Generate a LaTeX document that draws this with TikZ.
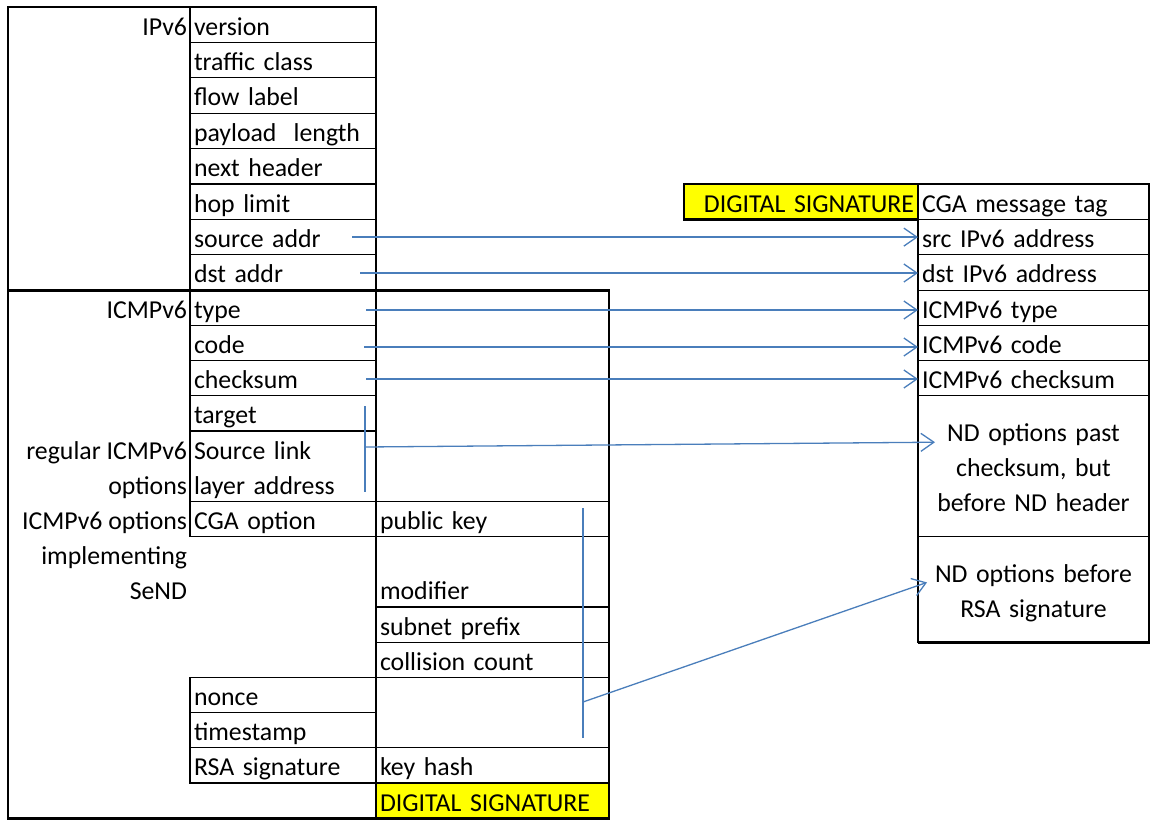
\documentclass[tikz,border=0pt]{standalone}
\usepackage{fontspec}
\setmainfont{Carlito}
\usetikzlibrary{arrows.meta,calc}
\definecolor{arrblue}{RGB}{74,126,187}
\definecolor{sigyellow}{RGB}{255,255,0}
\newcommand\rowstrut{\rule[-7.2pt]{0pt}{35.2pt}}
\begin{document}
\begin{tikzpicture}[x=1pt,y=-1pt,
  every node/.style={font=\fontsize{25.8}{35.2}\selectfont, text=black},
  cell/.style={draw=black, line width=1.3pt, anchor=north west, outer sep=0pt,
    inner xsep=4pt, inner ysep=0pt, align=left, minimum height=35.2pt},
  c2/.style={cell, text width=178pt},
  c3/.style={cell, text width=225pt},
  cr/.style={cell, text width=223pt},
  sig/.style={fill=sigyellow},
  lbl/.style={anchor=north east, align=right, inner xsep=3pt, inner ysep=0pt, outer sep=0pt},
  outline/.style={draw=black, line width=2.8pt},
  conn/.style={draw=arrblue, line width=1.3pt},
  arr/.style={conn, -{Straight Barb[length=13pt,width=18pt]}}
]
\useasboundingbox (0,0) rectangle (1151,820);

% ---------- IPv6 header ----------
\node[lbl] (lipv6) at (190,7) {\rowstrut IPv6};
\node[c2, minimum height=35.4pt] (version) at (190,7) {\rowstrut version};
\node[c2, minimum height=35.4pt] (traffic) at (190,42.4) {\rowstrut traffic class};
\node[c2, minimum height=35.4pt] (flow) at (190,77.8) {\rowstrut flow label};
\node[c2, minimum height=35.4pt] (payload) at (190,113.2) {\rowstrut payload\ \ length};
\node[c2, minimum height=35.4pt] (next) at (190,148.6) {\rowstrut next header};
\node[c2, minimum height=35.4pt] (hop) at (190,184) {\rowstrut hop limit};
\node[c2, minimum height=35.4pt] (srcaddr) at (190,219.4) {\rowstrut source addr};
\node[c2, minimum height=35.4pt] (dstaddr) at (190,254.8) {\rowstrut dst addr};

% ---------- ICMPv6 ----------
\node[lbl] (licmp) at (190,290.2) {\rowstrut ICMPv6};
\node[lbl] (lreg) at (190,431) {\rowstrut regular ICMPv6\\\rowstrut options};
\node[lbl] (lsend) at (190,501.4) {\rowstrut ICMPv6 options\\\rowstrut implementing\\\rowstrut SeND};

\node[c2] (type) at (190,290.2) {\rowstrut type};
\node[c2] (code) at (190,325.4) {\rowstrut code};
\node[c2] (checksum) at (190,360.6) {\rowstrut checksum};
\node[c2] (target) at (190,395.8) {\rowstrut target};
\node[c2, minimum height=70.4pt] (srclink) at (190,431) {\rowstrut Source link\\\rowstrut layer address};
\node[c2] (cgaopt) at (190,501.4) {\rowstrut CGA option};
\node[c2] (nonce) at (190,677.4) {\rowstrut nonce};
\node[c2] (timestamp) at (190,712.6) {\rowstrut timestamp};
\node[c2] (rsasig) at (190,747.8) {\rowstrut RSA signature};

\node[c3] (pubkey) at (376,501.4) {\rowstrut public key};
\node[c3, minimum height=70.4pt] (modifier) at (376,536.6) {\rowstrut\\\rowstrut modifier};
\node[c3] (subnet) at (376,607) {\rowstrut subnet prefix};
\node[c3] (collision) at (376,642.2) {\rowstrut collision count};
\node[c3, minimum height=70.4pt] (blank) at (376,677.4) {};
\node[c3] (keyhash) at (376,747.8) {\rowstrut key hash};
\node[c3, sig] (digsig) at (376,783) {\rowstrut DIGITAL SIGNATURE};

% ---------- digital signature input ----------
\node[cell, sig, text width=226pt, align=right, minimum height=35.4pt] (rdigsig) at (684,184) {\rowstrut DIGITAL SIGNATURE};
\node[cr, minimum height=35.4pt] (rtag) at (918,184) {\rowstrut CGA message tag};
\node[cr, minimum height=35.4pt] (rsrc) at (918,219.4) {\rowstrut src IPv6 address};
\node[cr, minimum height=35.4pt] (rdst) at (918,254.8) {\rowstrut dst IPv6 address};
\node[cr] (rtype) at (918,290.2) {\rowstrut ICMPv6 type};
\node[cr] (rcode) at (918,325.4) {\rowstrut ICMPv6 code};
\node[cr] (rcheck) at (918,360.6) {\rowstrut ICMPv6 checksum};
\node[cr, align=center, minimum height=140.8pt] (ndpast) at (918,395.8)
  {\rowstrut ND options past\\\rowstrut checksum, but\\\rowstrut before ND header};
\node[cr, align=center, minimum height=105.6pt] (ndbefore) at (918,536.6)
  {\rowstrut ND options before\\\rowstrut RSA signature};

% ---------- thick outlines ----------
\draw[outline] (8,7) rectangle (376,290.2);
\draw[outline] (8,290.2) rectangle (609,818.2);
\draw[outline] (918,642.2) -- (1149,642.2) -- (1149,184) -- (684,184) -- (684,219.4) -- (918,219.4);

% ---------- connectors ----------
\coordinate (aSrc) at (352,237.1);
\coordinate (aDst) at (360,273);
\coordinate (aType) at (366,310);
\coordinate (aCode) at (364,347);
\coordinate (aCheck) at (366,379);
\draw[arr] (aSrc) -- (aSrc -| rsrc.west);
\draw[arr] (aDst) -- (aDst -| rdst.west);
\draw[arr] (aType) -- (aType -| rtype.west);
\draw[arr] (aCode) -- (aCode -| rcode.west);
\draw[arr] (aCheck) -- (aCheck -| rcheck.west);

\coordinate (b1top) at (365,406);
\coordinate (b1bot) at (365,492);
\coordinate (b1mid) at (365,447);
\coordinate (b1end) at ($(ndpast.west)+(17,-24)$);
\draw[conn] (b1top) -- (b1bot);
\draw[arr] (b1mid) -- (b1end);

\coordinate (b2top) at (583,508);
\coordinate (b2bot) at (583,738);
\coordinate (b2mid) at (583,702);
\coordinate (b2end) at ($(ndbefore.west)+(9,-7)$);
\draw[conn] (b2top) -- (b2bot);
\draw[arr] (b2mid) -- (b2end);
\end{tikzpicture}
\end{document}
